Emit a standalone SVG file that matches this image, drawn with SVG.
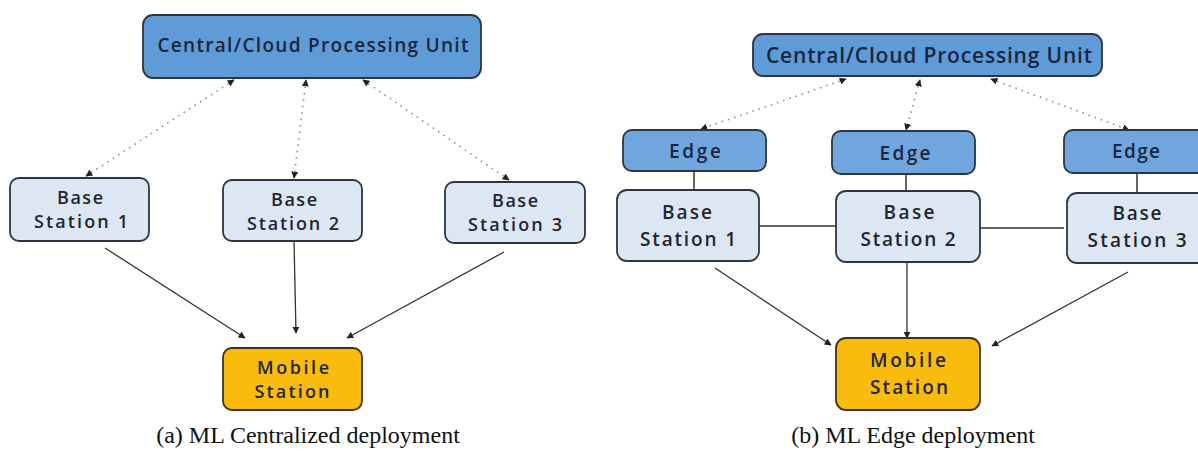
<svg xmlns="http://www.w3.org/2000/svg" width="1198" height="458" viewBox="0 0 1198 458">
<style>
.cpu{fill:#5f9bd7;stroke:#2b3644;stroke-width:1.8}
.edge{fill:#6fa6de;stroke:#2b3644;stroke-width:1.8}
.bs{fill:#dce7f3;stroke:#2b3644;stroke-width:1.8}
.ms{fill:#f9bb0c;stroke:#3a3320;stroke-width:1.8}
.t{font-family:"Open Sans","Liberation Sans",sans-serif;font-weight:600;fill:#1f2630;text-anchor:middle}
.tc{font-family:"Open Sans","Liberation Sans",sans-serif;font-weight:600;fill:#1a2640;text-anchor:middle}
.cap{font-family:"Liberation Serif","Times New Roman",serif;font-size:24px;fill:#111;text-anchor:middle}
.dot{stroke:#8a8a8a;stroke-width:1.6;stroke-dasharray:1.5 5;fill:none;marker-start:url(#ah);marker-end:url(#ah)}
.sol{stroke:#333;stroke-width:1.3;fill:none;marker-end:url(#ah)}
.ln{stroke:#333;stroke-width:1.5;fill:none}
</style>
<defs>
<marker id="ah" viewBox="0 0 10 10" refX="9" refY="5" markerWidth="7" markerHeight="7" markerUnits="userSpaceOnUse" orient="auto-start-reverse">
<path d="M0,0 L10,5 L0,10 z" fill="#222"/>
</marker>
</defs>
<rect width="1198" height="458" fill="#ffffff"/>

<g id="connectors">
<line class="dot" x1="234" y1="80" x2="86" y2="176"/>
<line class="dot" x1="306" y1="80" x2="294" y2="178"/>
<line class="dot" x1="363" y1="80" x2="509" y2="180"/>
<line class="sol" x1="105" y1="248" x2="245" y2="338"/>
<line class="sol" x1="294" y1="241" x2="296" y2="333"/>
<line class="sol" x1="504" y1="252" x2="347" y2="338"/>

<line class="dot" x1="846" y1="79" x2="701" y2="129"/>
<line class="dot" x1="920" y1="80" x2="906" y2="130"/>
<line class="dot" x1="991" y1="79" x2="1129" y2="130"/>
<line class="ln" x1="694" y1="171" x2="694" y2="190"/>
<line class="ln" x1="906" y1="174" x2="906" y2="191"/>
<line class="ln" x1="1137" y1="173" x2="1137" y2="193"/>
<line class="ln" x1="759" y1="226" x2="836" y2="226"/>
<line class="ln" x1="980" y1="228" x2="1064" y2="228"/>
<line class="sol" x1="715" y1="268" x2="831" y2="345"/>
<line class="sol" x1="907" y1="262" x2="907" y2="338"/>
<line class="sol" x1="1128" y1="272" x2="992" y2="346"/>
</g>

<g id="a-central">
<rect class="cpu" x="143" y="15" width="338" height="63" rx="10"/>
<text class="tc" x="313" y="52" font-size="19" textLength="311">Central/Cloud Processing Unit</text>
</g>
<g id="a-bs1">
<rect class="bs" x="10" y="178" width="139" height="63" rx="9"/>
<text class="t" x="80" y="204" font-size="18" textLength="46">Base</text>
<text class="t" x="81" y="228" font-size="18" textLength="94">Station 1</text>
</g>
<g id="a-bs2">
<rect class="bs" x="223" y="180" width="139" height="61" rx="9"/>
<text class="t" x="294" y="206" font-size="18" textLength="46">Base</text>
<text class="t" x="293" y="230" font-size="18" textLength="92">Station 2</text>
</g>
<g id="a-bs3">
<rect class="bs" x="445" y="182" width="140" height="61" rx="9"/>
<text class="t" x="515" y="207" font-size="18" textLength="46">Base</text>
<text class="t" x="515" y="231" font-size="18" textLength="94">Station 3</text>
</g>
<g id="a-ms">
<rect class="ms" x="223" y="348" width="139" height="62" rx="9"/>
<text class="t" x="293" y="374" font-size="18" textLength="72">Mobile</text>
<text class="t" x="292" y="398" font-size="18" textLength="75">Station</text>
</g>
<text class="cap" x="308" y="443">(a) ML Centralized deployment</text>

<g id="b-central">
<rect class="cpu" x="753" y="34" width="349" height="42" rx="10"/>
<text class="tc" x="929" y="63" font-size="21" textLength="326">Central/Cloud Processing Unit</text>
</g>
<g id="b-edge1">
<rect class="edge" x="623" y="130" width="143" height="41" rx="9"/>
<text class="tc" x="695" y="158" font-size="19" textLength="52">Edge</text>
</g>
<g id="b-edge2">
<rect class="edge" x="832" y="131" width="143" height="43" rx="9"/>
<text class="tc" x="905" y="160" font-size="19" textLength="51">Edge</text>
</g>
<g id="b-edge3">
<rect class="edge" x="1064" y="130" width="145" height="43" rx="9"/>
<text class="tc" x="1136" y="158" font-size="19" textLength="48">Edge</text>
</g>
<g id="b-bs1">
<rect class="bs" x="617" y="190" width="142" height="71" rx="10"/>
<text class="t" x="687" y="219" font-size="19" textLength="50">Base</text>
<text class="t" x="688" y="246" font-size="19" textLength="96">Station 1</text>
</g>
<g id="b-bs2">
<rect class="bs" x="836" y="191" width="144" height="71" rx="10"/>
<text class="t" x="909" y="219" font-size="19" textLength="51">Base</text>
<text class="t" x="908" y="246" font-size="19" textLength="95">Station 2</text>
</g>
<g id="b-bs3">
<rect class="bs" x="1067" y="193" width="145" height="70" rx="10"/>
<text class="t" x="1137" y="220" font-size="19" textLength="49">Base</text>
<text class="t" x="1137" y="247" font-size="19" textLength="99">Station 3</text>
</g>
<g id="b-ms">
<rect class="ms" x="836" y="338" width="144" height="72" rx="10"/>
<text class="t" x="908" y="367" font-size="19" textLength="76">Mobile</text>
<text class="t" x="909" y="394" font-size="19" textLength="78">Station</text>
</g>
<text class="cap" x="913" y="443">(b) ML Edge deployment</text>
</svg>
